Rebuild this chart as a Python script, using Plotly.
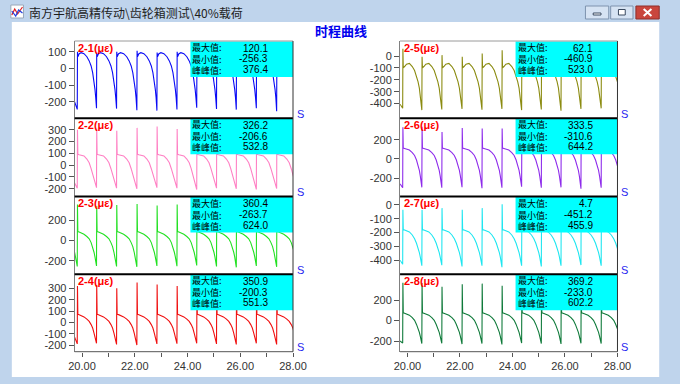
import plotly.graph_objects as go

# ---------------- data ----------------
CHANNELS = ["2-1", "2-2", "2-3", "2-4", "2-5", "2-6", "2-7", "2-8"]
MAX_VALS = [120.1, 326.2, 360.4, 350.9, 62.1, 333.5, 4.7, 369.2]
MIN_VALS = [-256.3, -206.6, -263.7, -200.3, -460.9, -310.6, -451.2, -233.0]
PP_VALS = [376.4, 532.8, 624.0, 551.3, 523.0, 644.2, 455.9, 602.2]

X_TICKS = [20, 21, 22, 23, 24, 25, 26, 27, 28]
X_TICKTEXT = ["20.00", "", "22.00", "", "24.00", "", "26.00", "", "28.00"]

# time of the cycle minima (s), shared by all channels
T_START = 19.72
DIP_T = [19.82, 20.55, 21.31, 22.08, 22.84, 23.60, 24.35, 25.10, 25.85, 26.61, 27.38]
# fractional positions within a cycle of the read profile points
PHASE = [0.03, 0.10, 0.20, 0.35, 0.50, 0.62, 0.72, 0.80, 0.87, 0.92, 0.96]

start_2_1 = -200
dips_2_1 = [-245, -238, -240, -250, -252, -245, -235, -242, -246, -238, -256.3]
spikes_2_1 = [100, 95, 100, 105, 95, 100, 110, 120.1, 105, 100, 95]
profile_2_1 = [70, 88, 94, 88, 70, 45, 15, -25, -75, -125, -175]

start_2_2 = -150
dips_2_2 = [-195, -190, -195, -200, -190, -195, -206.6, -195, -200, -205, -198]
spikes_2_2 = [300, 310, 290, 315, 326.2, 305, 300, 310, 295, 305, 300]
profile_2_2 = [92, 88, 86, 78, 52, 20, -30, -80, -125, -155, -180]

start_2_3 = -115
dips_2_3 = [-255, -250, -255, -258, -250, -252, -245, -255, -263.7, -250, -258]
spikes_2_3 = [355, 340, 350, 360.4, 345, 355, 350, 345, 358, 350, 340]
profile_2_3 = [88, 84, 78, 62, 40, 18, -20, -60, -115, -160, -210]

start_2_4 = -130
dips_2_4 = [-190, -185, -195, -200.3, -190, -188, -185, -190, -195, -185, -195]
spikes_2_4 = [320, 330, 300, 350.9, 335, 320, 325, 330, 320, 315, 310]
profile_2_4 = [72, 68, 62, 48, 28, 8, -20, -50, -95, -130, -165]

start_2_5 = -405
dips_2_5 = [-440, -455, -450, -445, -452, -445, -455, -450, -460.9, -445, -440]
spikes_2_5 = [62.1, -5, 8, -5, 22, 50, 30, 20, 10, 20, 15]
profile_2_5 = [-98, -88, -68, -62, -88, -122, -170, -215, -270, -330, -385]

start_2_6 = -260
dips_2_6 = [-300, -296, -300, -295, -305, -300, -290, -300, -296, -310.6, -300]
spikes_2_6 = [330, 333.5, 280, 320, 315, 315, 320, 310, 320, 315, 310]
profile_2_6 = [112, 108, 104, 92, 66, 36, -12, -65, -120, -180, -240]

start_2_7 = -400
dips_2_7 = [-430, -440, -436, -445, -440, -451.2, -440, -445, -440, -435, -440]
spikes_2_7 = [-36, -35, -24, -36, -24, 4.7, -20, -30, -25, -20, -30]
profile_2_7 = [-178, -182, -186, -196, -218, -245, -278, -310, -345, -378, -405]

start_2_8 = -200
dips_2_8 = [-220, -225, -222, -230, -225, -233.0, -220, -225, -228, -222, -225]
spikes_2_8 = [369.2, 365, 330, 355, 360, 340, 350, 345, 355, 350, 345]
profile_2_8 = [76, 72, 66, 52, 28, 2, -38, -75, -115, -155, -190]

SERIES = [
    (start_2_1, dips_2_1, spikes_2_1, profile_2_1),
    (start_2_2, dips_2_2, spikes_2_2, profile_2_2),
    (start_2_3, dips_2_3, spikes_2_3, profile_2_3),
    (start_2_4, dips_2_4, spikes_2_4, profile_2_4),
    (start_2_5, dips_2_5, spikes_2_5, profile_2_5),
    (start_2_6, dips_2_6, spikes_2_6, profile_2_6),
    (start_2_7, dips_2_7, spikes_2_7, profile_2_7),
    (start_2_8, dips_2_8, spikes_2_8, profile_2_8),
]

Y_TICKS = [
    [-200, -100, 0, 100],
    [-200, -100, 0, 100, 200, 300],
    [-200, 0, 200],
    [-200, -100, 0, 100, 200, 300],
    [-400, -300, -200, -100, 0],
    [-200, 0, 200],
    [-400, -300, -200, -100, 0],
    [-200, 0, 200],
]

# ---------------- styles / layout ----------------
COLORS = ["#0A0AF5", "#FF80C4", "#22E022", "#F01010",
          "#8B8B10", "#8E2CEB", "#1FE6F0", "#0F7A3A"]
Y_RANGES = [[-298, 164], [-265, 396], [-332, 434], [-259, 424],
            [-524, 127], [-391, 422], [-502, 60], [-304, 451]]
X_RANGE = [19.72, 28.0]

W, H = 680, 384
def fx(p): return p / W
def fy(p): return 1 - p / H

XL = [70.7, 406.0]
XR = [295.7, 630.0]
ROW_T = [41.0, 118.3, 196.5, 274.3]
ROW_B = [118.3, 196.5, 274.3, 351.7]
BOX_L = [190.0, 525.0]
VAL_R = [270.7, 605.7]
RISE_DT = 0.008


def build(start, dips, spikes, profile):
    xs, ys = [T_START], [start]
    for k, t in enumerate(DIP_T):
        period = (DIP_T[k + 1] - t) if k + 1 < len(DIP_T) else (DIP_T[-1] - DIP_T[-2])
        xs += [t, t + RISE_DT]
        ys += [dips[k], spikes[k]]
        for ph, v in zip(PHASE, profile):
            xs.append(t + ph * period)
            ys.append(v)
    return xs, ys


fig = go.Figure()
layout = dict(
    width=W, height=H, margin=dict(l=0, r=0, t=0, b=0),
    paper_bgcolor="#BFD4EC", plot_bgcolor="rgba(0,0,0,0)",
    showlegend=False,
)

TICKFONT = dict(family="Liberation Sans, Arial, sans-serif", size=11, color="#333333")

for i in range(8):
    col, row = i // 4, i % 4
    xs, ys = build(*SERIES[i])
    fig.add_trace(go.Scatter(
        x=xs, y=ys, mode="lines", line=dict(color=COLORS[i], width=1.1),
        xaxis=f"x{i+1}", yaxis=f"y{i+1}", hoverinfo="skip"))
    xa = dict(domain=[fx(XL[col]), fx(XR[col])], range=X_RANGE, anchor=f"y{i+1}",
              showgrid=False, zeroline=False, showline=False, fixedrange=True)
    if row == 3:
        xa.update(tickvals=X_TICKS, ticktext=X_TICKTEXT, ticks="outside", ticklen=4,
                  tickcolor="#555555", tickfont=TICKFONT)
    else:
        xa.update(showticklabels=False, ticks="")
    ya = dict(domain=[fy(ROW_B[row]), fy(ROW_T[row])], range=Y_RANGES[i],
              anchor=f"x{i+1}", tickvals=Y_TICKS[i],
              ticktext=[str(v) for v in Y_TICKS[i]], ticks="outside", ticklen=5,
              tickcolor="#555555", showline=True, linecolor="#808080", linewidth=1,
              showgrid=False, zeroline=False, tickfont=TICKFONT, fixedrange=True)
    layout[f"xaxis{i+1}"] = xa
    layout[f"yaxis{i+1}"] = ya

shapes = []
# white client area of the window
shapes.append(dict(type="rect", xref="paper", yref="paper", layer="below",
                   x0=fx(6), x1=fx(673), y0=fy(377), y1=fy(22),
                   fillcolor="white", line=dict(width=0)))
# cyan statistic boxes
for i in range(8):
    col, row = i // 4, i % 4
    shapes.append(dict(type="rect", xref="paper", yref="paper", layer="above",
                       x0=fx(BOX_L[col]), x1=fx(XR[col]),
                       y0=fy(ROW_T[row] + 36), y1=fy(ROW_T[row] + 0.5),
                       fillcolor="#00FFFF", line=dict(width=0)))
# frames
for col in range(2):
    shapes.append(dict(type="line", xref="paper", yref="paper", layer="above",
                       x0=fx(XL[col]), x1=fx(XR[col]), y0=fy(ROW_T[0]), y1=fy(ROW_T[0]),
                       line=dict(color="#9A9A9A", width=1)))
    for yb in ROW_B[:3]:
        shapes.append(dict(type="line", xref="paper", yref="paper", layer="above",
                           x0=fx(XL[col]), x1=fx(XR[col]), y0=fy(yb), y1=fy(yb),
                           line=dict(color="#000000", width=2)))
    shapes.append(dict(type="line", xref="paper", yref="paper", layer="above",
                       x0=fx(XL[col]), x1=fx(XR[col]), y0=fy(ROW_B[3]), y1=fy(ROW_B[3]),
                       line=dict(color="#555555", width=1)))
    shapes.append(dict(type="line", xref="paper", yref="paper", layer="above",
                       x0=fx(XR[col]), x1=fx(XR[col]), y0=fy(ROW_B[3]), y1=fy(ROW_T[0]),
                       line=dict(color="#333333", width=1)))

# window title-bar buttons
def rect(x0, y0, x1, y1, fill, line_col, lw=1):
    return dict(type="rect", xref="paper", yref="paper", layer="above",
                x0=fx(x0), x1=fx(x1), y0=fy(y1), y1=fy(y0),
                fillcolor=fill, line=dict(color=line_col, width=lw))

shapes += [
    rect(597, 6, 621, 19, "#D6E3F3", "#7E93AE"),
    rect(623, 6, 646, 19, "#D6E3F3", "#7E93AE"),
    rect(649, 6, 673, 19, "#C9463D", "#8E2E2A"),
    rect(605, 13, 613, 15, "#FFFFFF", "#3A4A60"),
    rect(631, 9.5, 638, 15, "#FFFFFF", "#3A4A60"),
    # window icon
    rect(5, 5, 18, 18, "#FFFFFF", "#9AA8BA"),
]
shapes.append(dict(type="path", xref="paper", yref="paper", layer="above",
                   path=f"M{fx(657)},{fy(9)} L{fx(665)},{fy(16)} M{fx(665)},{fy(9)} L{fx(657)},{fy(16)}",
                   line=dict(color="white", width=2)))
shapes.append(dict(type="path", xref="paper", yref="paper", layer="above",
                   path=f"M{fx(6)},{fy(15)} L{fx(9)},{fy(9)} L{fx(12)},{fy(14)} L{fx(17)},{fy(7)}",
                   line=dict(color="#E02020", width=1.2)))
shapes.append(dict(type="path", xref="paper", yref="paper", layer="above",
                   path=f"M{fx(6)},{fy(11)} L{fx(10)},{fy(16)} L{fx(13)},{fy(10)} L{fx(17)},{fy(13)}",
                   line=dict(color="#2040E0", width=1.2)))
layout["shapes"] = shapes

ann = []
ann.append(dict(text="南方宇航高精传动\\齿轮箱测试\\40%载荷", xref="paper", yref="paper",
                x=fx(22), y=fy(12.5), xanchor="left", yanchor="middle", showarrow=False,
                font=dict(family="Noto Sans CJK SC, sans-serif", size=12, color="#1E1E1E")))
ann.append(dict(text="<b>时程曲线</b>", xref="paper", yref="paper",
                x=fx(345), y=fy(31), xanchor="center", yanchor="middle", showarrow=False,
                font=dict(family="Noto Sans CJK SC, sans-serif", size=13, color="#0000EE")))
LABELS = ["最大值:", "最小值:", "峰峰值:"]
for i in range(8):
    col, row = i // 4, i % 4
    top = ROW_T[row]
    ann.append(dict(text=f"<b>{CHANNELS[i]}(με)</b>", xref="paper", yref="paper",
                    x=fx(XL[col] + 1.5), y=fy(top + 6.7), xanchor="left", yanchor="middle",
                    showarrow=False,
                    font=dict(family="Liberation Sans, sans-serif", size=11, color="#FF0000")))
    # the three label rows as one multi-line text
    ann.append(dict(text="<br>".join(LABELS), xref="paper", yref="paper",
                    x=fx(BOX_L[col] + 1), y=fy(top + 18), xanchor="left", yanchor="middle",
                    align="left", showarrow=False, borderpad=0,
                    font=dict(family="Noto Sans CJK SC, sans-serif", size=9,
                              color="#000000")))
    vals = [MAX_VALS[i], MIN_VALS[i], PP_VALS[i]]
    for r, v in enumerate(vals):
        yy = top + 7.2 + r * 10.7
        ann.append(dict(text=f"{v:.1f}", xref="paper", yref="paper", x=fx(VAL_R[col]),
                        y=fy(yy), xanchor="right", yanchor="middle", showarrow=False,
                        borderpad=0,
                        font=dict(family="Liberation Sans, sans-serif", size=10,
                                  color="#000000")))
    ann.append(dict(text="S", xref="paper", yref="paper", x=fx(XR[col] + 2),
                    y=fy(ROW_B[row] - 4.5), xanchor="left", yanchor="middle",
                    showarrow=False,
                    font=dict(family="Liberation Sans, sans-serif", size=11, color="#2828F0")))
layout["annotations"] = ann

fig.update_layout(**layout)
fig.write_html("out.html", config={"displayModeBar": False},
               post_script="document.body.style.margin='0px';document.body.style.padding='0px';")
